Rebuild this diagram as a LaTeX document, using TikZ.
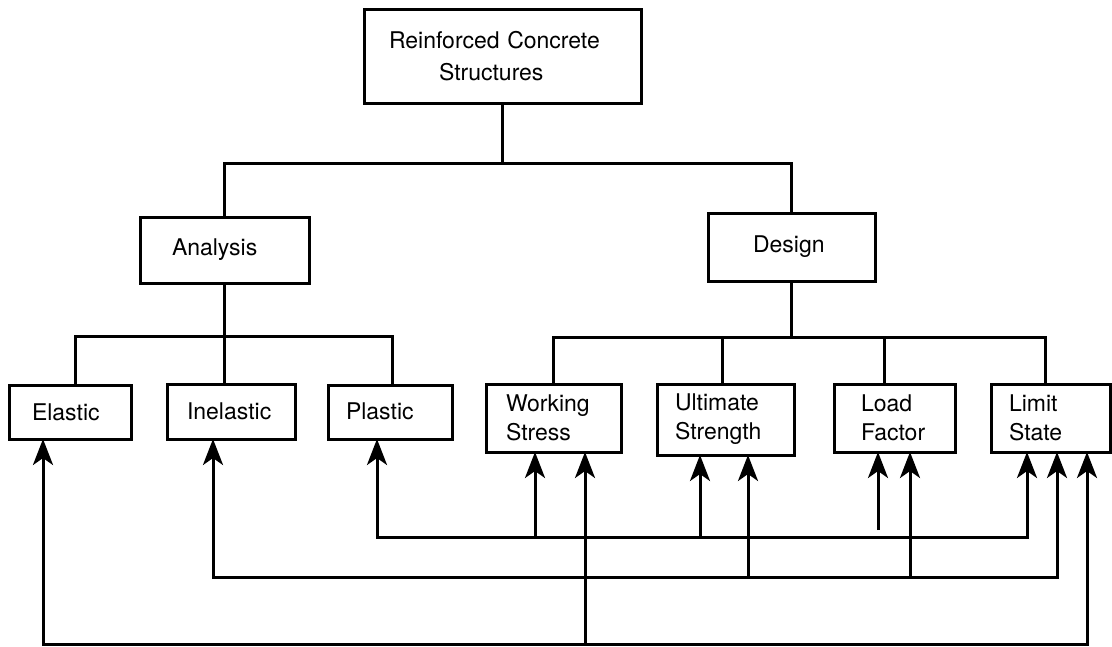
\documentclass[tikz,border=0pt]{standalone}
\usepackage{fontspec}
\setmainfont{TeX Gyre Heros}
\usetikzlibrary{arrows.meta}

% box={width}{height}{left padding}{text width}
\tikzset{
  box/.style n args={4}{draw, rectangle, anchor=north west, outer sep=0pt,
    minimum width=#1, minimum height=#2, inner xsep=#3, inner ysep=0pt,
    text width=#4, align=left, font=\fontsize{23}{29}\selectfont},
  wire/.style={line width=3pt, line join=miter},
  tip/.tip={Stealth[length=26pt,width=20pt,inset=7pt]},
  arr/.style={wire, -tip},
  arrs/.style={wire, tip-tip},
}

\begin{document}
\begin{tikzpicture}[x=1pt, y=-1pt, line width=3pt]
\useasboundingbox (0,0) rectangle (1112,646);

% tree of boxes
\node[box={277pt}{94pt}{25pt}{227pt}, font=\fontsize{23}{32}\selectfont] (root) at (364,9)
  {Reinforced Concrete\\\hspace*{50pt}Structures};
\node[box={169pt}{66pt}{32pt}{105pt}] (analysis) at (140,217) {Analysis};
\node[box={167pt}{68pt}{45pt}{77pt}]  (design)   at (708,213) {Design};

\node[box={122pt}{54pt}{23pt}{76pt}]  (elastic)   at (9,385)   {Elastic};
\node[box={128pt}{55pt}{20pt}{88pt}]  (inelastic) at (167,384) {\raisebox{-3pt}{Inelastic}};
\node[box={124pt}{54pt}{18pt}{88pt}]  (plastic)   at (328,385) {\raisebox{2pt}{Plastic}};
\node[box={135pt}{68pt}{20pt}{95pt}]  (working)   at (486,384) {Working\\Stress};
\node[box={137pt}{71pt}{18pt}{101pt}] (ultimate)  at (657,384) {Ultimate\\Strength};
\node[box={121pt}{68pt}{27pt}{67pt}]  (load)      at (834,384) {Load\\Factor};
\node[box={119pt}{68pt}{18pt}{83pt}]  (limit)     at (991,384) {Limit\\State};

% top level branching
\coordinate (t0) at (503,163);
\draw[wire] (root.south) -- (root.south |- t0);
\draw[wire] (analysis.north) -- (analysis.north |- t0) -- (design.north |- t0) -- (design.north);

% analysis branching
\coordinate (aL) at (75,336);
\coordinate (aR) at (392,336);
\draw[wire] (aL |- elastic.north) -- (aL) -- (aR) -- (aR |- plastic.north);
\draw[wire] (analysis.south) -- (analysis.south |- inelastic.north);

% design branching
\coordinate (dL) at (553,337);
\coordinate (dR) at (1045,337);
\coordinate (dU) at (722,337);
\coordinate (dF) at (884,337);
\draw[wire] (dL |- working.north) -- (dL) -- (dR) -- (dR |- limit.north);
\draw[wire] (design.south) -- (design.south |- dL);
\draw[wire] (dU) -- (dU |- ultimate.north);
\draw[wire] (dF) -- (dF |- load.north);

% feedback bus 1: plastic
\coordinate (r1a) at (377,537);
\coordinate (r1b) at (535,537);
\coordinate (r1c) at (700,537);
\coordinate (r1d) at (878,530);
\coordinate (r1e) at (1027,537);
\draw[arrs] (r1a |- plastic.south) -- (r1a) -- (r1e) -- (r1e |- limit.south);
\draw[arr] (r1b) -- (r1b |- working.south);
\draw[arr] (r1c) -- (r1c |- ultimate.south);
\draw[arr] (r1d) -- (r1d |- load.south);

% feedback bus 2: inelastic
\coordinate (r2a) at (213,577);
\coordinate (r2b) at (748,577);
\coordinate (r2c) at (910,577);
\coordinate (r2e) at (1057,577);
\draw[arrs] (r2a |- inelastic.south) -- (r2a) -- (r2e) -- (r2e |- limit.south);
\draw[arr] (r2b) -- (r2b |- ultimate.south);
\draw[arr] (r2c) -- (r2c |- load.south);

% feedback bus 3: elastic
\coordinate (r3a) at (43,644);
\coordinate (r3b) at (585,644);
\coordinate (r3e) at (1087,644);
\draw[arrs] (r3a |- elastic.south) -- (r3a) -- (r3e) -- (r3e |- limit.south);
\draw[arr] (r3b) -- (r3b |- working.south);
\end{tikzpicture}
\end{document}
